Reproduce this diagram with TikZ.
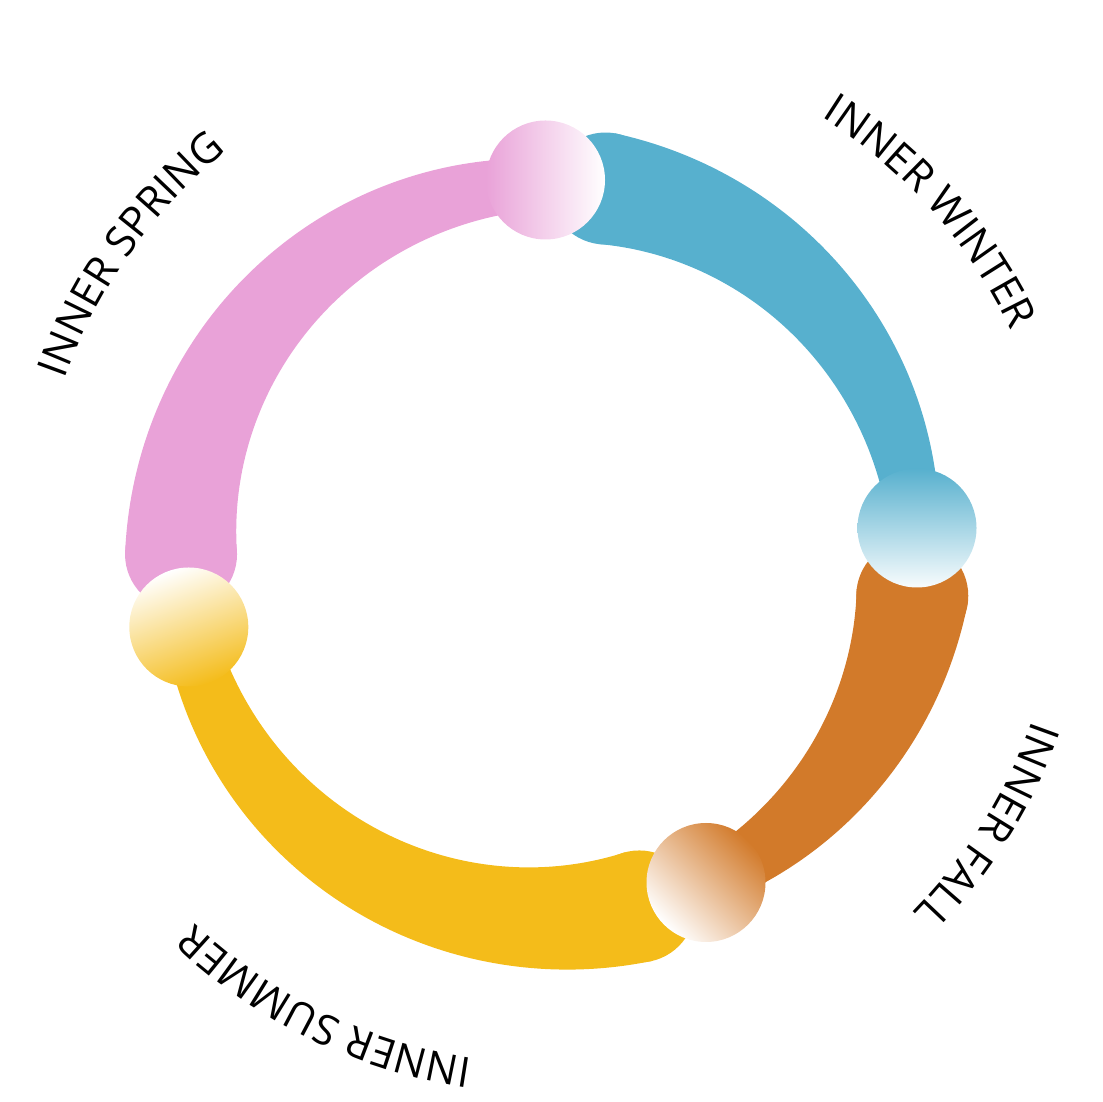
\documentclass[tikz,border=0pt]{standalone}
\usepackage{fontspec}
\newfontfamily\labelfamily{Open Sans}
\usetikzlibrary{decorations.text}
\definecolor{pinkc}{HTML}{E9A2D8}
\definecolor{bluec}{HTML}{57B0CE}
\definecolor{orangec}{HTML}{D27A2A}
\definecolor{yellowc}{HTML}{F4BC1A}
\newcommand\seasonfont{\labelfamily\fontsize{42}{50}\selectfont}
% band: colour, thin-end angle, thick-end angle
\newcommand\seasonband[3]{%
  \fill[#1] plot[domain=0:1,samples=90,variable=\t]
      ({548+(392+31*\t)*cos((#2)+((#3)-(#2))*\t)},{551+(392+31*\t)*sin((#2)+((#3)-(#2))*\t)})
    -- plot[domain=1:0,samples=90,variable=\t]
      ({548+(342-31*\t)*cos((#2)+((#3)-(#2))*\t)},{551+(342-31*\t)*sin((#2)+((#3)-(#2))*\t)})
    -- cycle;
  \fill[#1] ({548+367*cos(#3)},{551+367*sin(#3)}) circle[radius=56];
}
\tikzset{
  joint/.style={circle, inner sep=0pt, minimum size=119pt, draw=none},
  seasonlabel/.style={decorate, decoration={text along path, text align=center, text={#1}}}
}
\begin{document}
\begin{tikzpicture}[x=1pt,y=1pt]
\useasboundingbox (0,0) rectangle (1102,1102);
\coordinate (ctr) at (548,551);
% bands
\seasonband{pinkc}{90.4}{180.5}
\seasonband{bluec}{3.4}{81}
\seasonband{orangec}{-64.6}{-7}
\seasonband{yellowc}{-167.9}{-75.6}
% joints
\node[joint, left color=pinkc, right color=white] (spring) at (545.5,922) {};
\node[joint, top color=bluec, bottom color=white!96!bluec] (winter) at (917,574) {};
\node[joint, top color=orangec, bottom color=white, shading angle=-45] (fall) at (706,219.5) {};
\node[joint, top color=white, bottom color=yellowc, shading angle=20] (summer) at (188.8,475) {};
% labels
\path[seasonlabel={|\seasonfont|INNER SPRING}] ([shift={(169.6:513)}]548,551) arc[start angle=169.6, end angle=119.6, radius=513];
\path[seasonlabel={|\seasonfont|INNER WINTER}] ([shift={(66.6:513)}]548,551) arc[start angle=66.6, end angle=16.6, radius=513];
\path[seasonlabel={|\seasonfont|INNER FALL}] ([shift={(-7:513)}]548,551) arc[start angle=-7, end angle=-57, radius=513];
\path[seasonlabel={|\seasonfont|INNER SUMMER}] ([shift={(-91:513)}]548,551) arc[start angle=-91, end angle=-141, radius=513];
\end{tikzpicture}
\end{document}
